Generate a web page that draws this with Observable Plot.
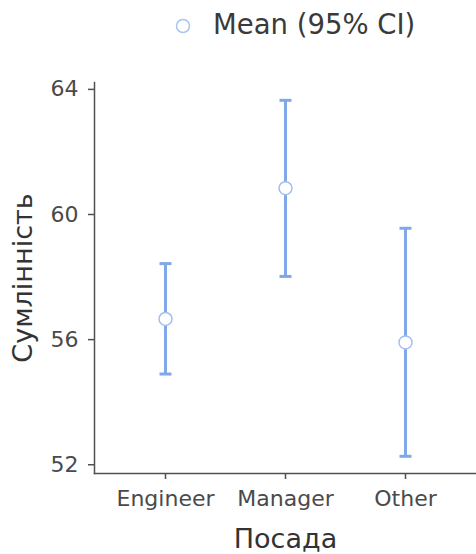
<!DOCTYPE html>
<html>
<head>
<meta charset="utf-8">
<script src="https://cdn.jsdelivr.net/npm/d3@7"></script>
<script src="https://cdn.jsdelivr.net/npm/@observablehq/plot@0.6"></script>
<style>
  html, body { margin: 0; padding: 0; background: #fff; }
  body { width: 476px; height: 554px; overflow: hidden; font-family: "DejaVu Sans", sans-serif; }
  #legend { position: relative; height: 56px; }
  #legend svg { position: absolute; left: 0; top: 0; }
  #chart svg { display: block; }
</style>
</head>
<body>
<div id="legend">
  <svg width="476" height="56">
    <circle cx="183" cy="26" r="6.5" fill="#fff" stroke="#a9c4f1" stroke-width="1.5"></circle>
    <text x="213" y="34" font-family="DejaVu Sans, sans-serif" font-size="27.5" fill="#3a3a3a">Mean (95% CI)</text>
  </svg>
</div>
<div id="chart"></div>
<script>
const categories = ["Engineer", "Manager", "Other"];
const means = [56.66, 60.84, 55.91];
const lower = [54.90, 58.02, 52.27];
const upper = [58.43, 63.65, 59.56];
const yTicks = [52, 56, 60, 64];
const xLabel = "Посада";
const yLabel = "Сумлінність";

const data = categories.map((c, i) => ({cat: c, mean: means[i], lo: lower[i], hi: upper[i]}));

const barColor = "#80a8e8";
const dotStroke = "#a3bff0";
const axisColor = "#505050";
const textColor = "#4a4a4a";

const capSymbol = {
  draw(ctx) { ctx.moveTo(-6, 0); ctx.lineTo(6, 0); }
};

const chart = Plot.plot({
  width: 476,
  height: 498,
  marginTop: 26,
  marginBottom: 81,
  marginLeft: 94,
  marginRight: 0,
  style: {fontFamily: "DejaVu Sans, sans-serif", fontSize: "22px", color: textColor, background: "#fff"},
  x: {type: "point", domain: categories, padding: 0.59, label: null},
  y: {domain: [51.72, 64.22], label: null},
  marks: [
    Plot.axisY({ticks: yTicks, tickSize: 6, tickPadding: 10, stroke: axisColor, fill: textColor, strokeWidth: 1.5, fontSize: 22, label: null}),
    Plot.axisX({tickSize: 6, tickPadding: 11, stroke: axisColor, fill: textColor, strokeWidth: 1.5, fontSize: 22, label: null}),
    Plot.frame({anchor: "left", stroke: axisColor, strokeWidth: 1.5}),
    Plot.frame({anchor: "bottom", stroke: axisColor, strokeWidth: 1.5}),
    Plot.ruleX(data, {x: "cat", y1: "lo", y2: "hi", stroke: barColor, strokeWidth: 3}),
    Plot.dot(data, {x: "cat", y: "lo", symbol: capSymbol, stroke: barColor, strokeWidth: 3}),
    Plot.dot(data, {x: "cat", y: "hi", symbol: capSymbol, stroke: barColor, strokeWidth: 3}),
    Plot.dot(data, {x: "cat", y: "mean", r: 6.5, fill: "#fff", stroke: dotStroke, strokeWidth: 1.5}),
    Plot.text([yLabel], {text: d => d, frameAnchor: "left", rotate: -90, dx: -71, fontSize: 27, fill: "#333", textAnchor: "middle"}),
    Plot.text([xLabel], {text: d => d, frameAnchor: "bottom", dy: 74, fontSize: 27, fill: "#333", textAnchor: "middle"})
  ]
});
document.getElementById("chart").appendChild(chart);
</script>
</body>
</html>
